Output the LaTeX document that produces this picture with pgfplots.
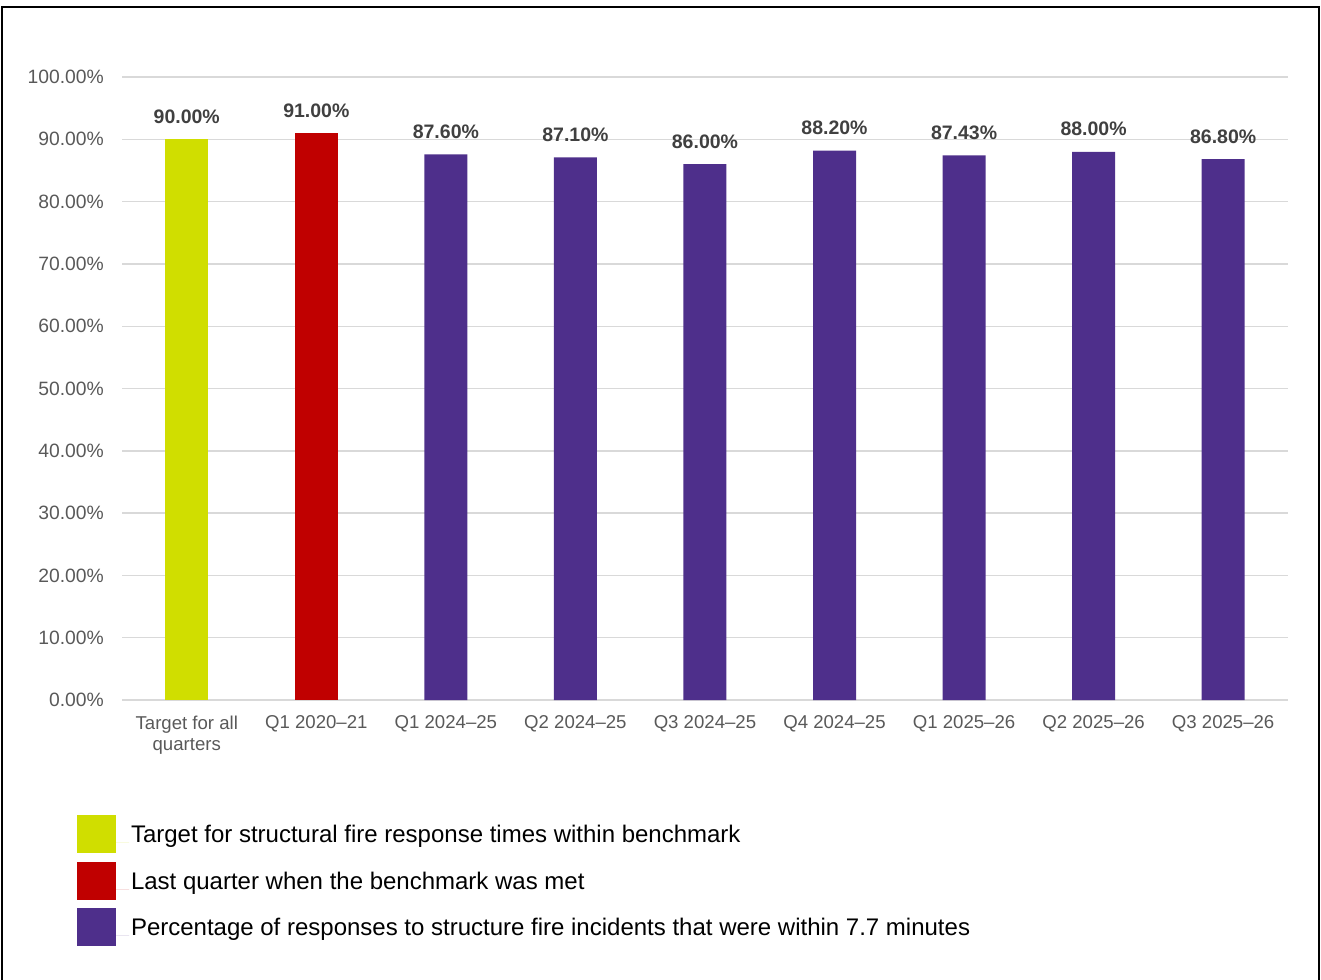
\documentclass[border=0pt]{standalone}
\usepackage{fontspec}
\setmainfont{Liberation Sans}
\usepackage{pgfplots}
\pgfplotsset{compat=1.18}

\definecolor{targetgreen}{HTML}{D0DE00}
\definecolor{metred}{HTML}{C00000}
\definecolor{quarterpurple}{HTML}{4E2F8B}
\definecolor{tickgray}{HTML}{595959}
\definecolor{labelgray}{HTML}{404040}
\definecolor{gridgray}{HTML}{D9D9D9}

% square swatch for the legend, with the gap before its text
\pgfplotsset{
  squarelegend/.style={
    legend image code/.code={%
      \fill[##1,draw=none] (0pt,-10.4pt) rectangle (39pt,27.6pt);
      \path (0pt,0pt) -- (52pt,0pt);
    }
  }
}

\begin{document}
\begin{tikzpicture}
\useasboundingbox (0pt,0pt) rectangle (1321pt,-979pt);
% frame round the chart
\draw[line width=2pt,black] (2pt,-985pt) -- (2pt,-7pt) -- (1319pt,-7pt) -- (1319pt,-985pt);

\begin{axis}[
  at={(122pt,-700pt)}, anchor=south west,
  width=1166pt, height=623pt, scale only axis,
  xmin=-0.5, xmax=8.5, ymin=0, ymax=100,
  ybar, bar width=43pt,
  axis line style={draw=none},
  major tick length=0pt,
  ymajorgrids,
  grid style={gridgray, line width=1.4pt},
  ytick={0,10,...,100},
  /pgf/number format/assume math mode=true,
  yticklabel={\pgfmathprintnumber[fixed,fixed zerofill,precision=2]{\tick}\%},
  yticklabel style={font=\fontsize{19.3}{23}\selectfont, text=tickgray,
    inner sep=0pt, anchor=east, xshift=-18pt},
  xtick={0,...,8},
  xticklabels={{Target for all\\quarters},{Q1 2020–21},{Q1 2024–25},{Q2 2024–25},
    {Q3 2024–25},{Q4 2024–25},{Q1 2025–26},{Q2 2025–26},{Q3 2025–26}},
  xticklabel style={font=\fontsize{18.6}{21}\selectfont, text=tickgray,
    inner sep=0pt, anchor=north, align=center, yshift=-15.5pt},
  nodes near coords={\pgfmathprintnumber[fixed,fixed zerofill,precision=2]{\pgfplotspointmeta}\%},
  nodes near coords style={font=\bfseries\fontsize{19.5}{23}\selectfont,
    text=labelgray, inner sep=0pt, anchor=south, yshift=15.5pt},
  legend style={at={(axis description cs:-0.03859,-0.18459)}, anchor=north west,
    draw=none, fill=none, inner sep=0pt, outer sep=0pt,
    row sep=8.5pt, column sep=0pt,
    font=\fontsize{24}{28}\selectfont,
    cells={anchor=base west, inner sep=0pt, text=black}},
  clip=false,
]
\addplot[fill=targetgreen, draw=none, bar shift=0pt, squarelegend]
  coordinates {(0,90.00)};
\addplot[fill=metred, draw=none, bar shift=0pt, squarelegend]
  coordinates {(1,91.00)};
\addplot[fill=quarterpurple, draw=none, bar shift=0pt, squarelegend]
  coordinates {(2,87.60) (3,87.10) (4,86.00) (5,88.20) (6,87.43) (7,88.00) (8,86.80)};
\legend{Target for structural fire response times within benchmark,
  Last quarter when the benchmark was met,
  Percentage of responses to structure fire incidents that were within 7.7 minutes}
\end{axis}
\end{tikzpicture}
\end{document}
